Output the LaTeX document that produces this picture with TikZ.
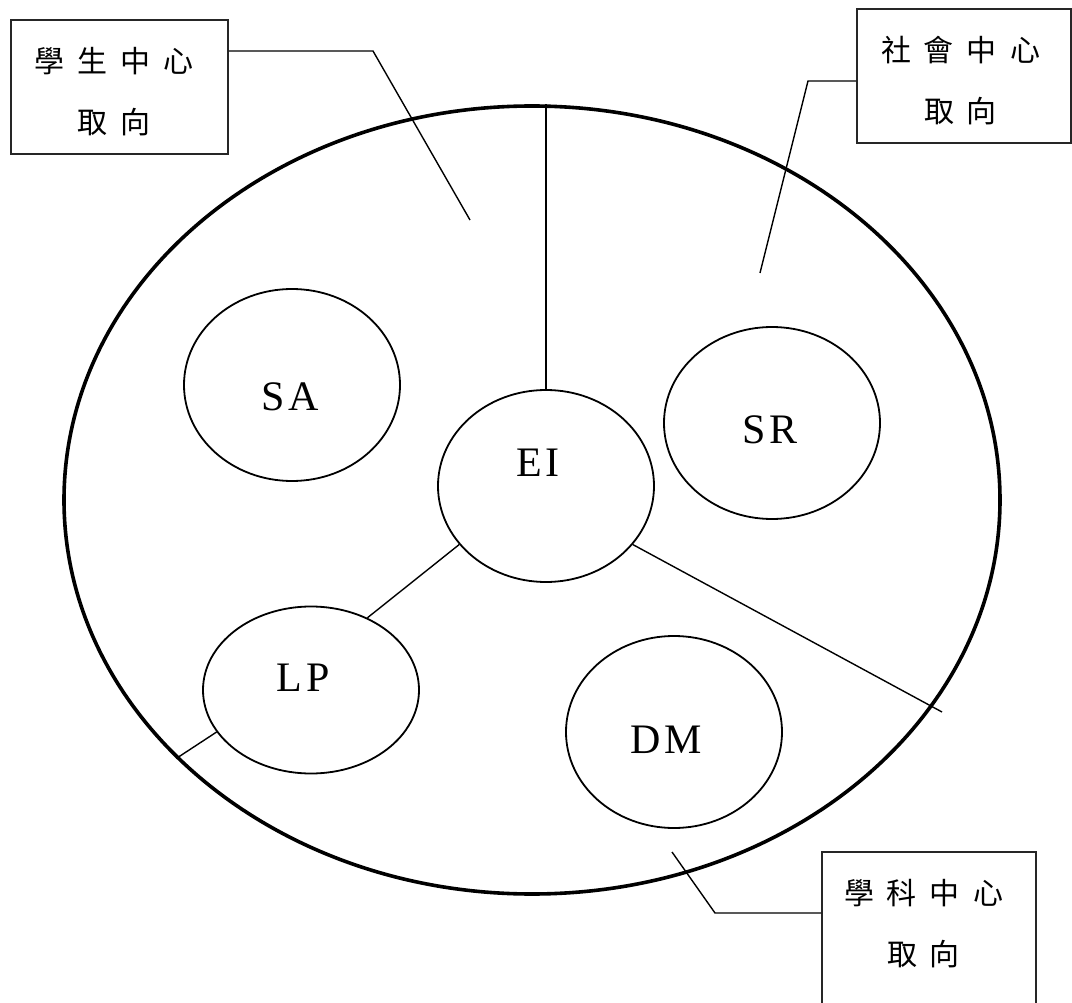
\documentclass[tikz,border=0pt]{standalone}
\usepackage{fontspec}
\setmainfont{Liberation Serif}
\newfontfamily\cjk{Noto Sans CJK TC}
\usetikzlibrary{shapes.geometric}
\newcommand\gapc{\hspace{13pt}}
\newcommand\gapl{\hspace{4pt}}
\begin{document}
\begin{tikzpicture}[x=1pt,y=-1pt,
  outer/.style={ellipse,draw,line width=3.6pt,minimum width=936pt,minimum height=788pt,inner sep=0pt},
  bub/.style={ellipse,draw,line width=1.8pt,minimum width=216pt,minimum height=192pt,inner sep=0pt},
  bubtext/.style={font=\fontsize{42}{42}\selectfont,inner sep=0pt},
  tagbox/.style={rectangle,draw=black!85,line width=1.7pt,inner sep=0pt},
  tagtext/.style={font=\cjk\fontsize{30}{61}\selectfont,align=center,inner sep=0pt},
  lead/.style={line width=1.4pt}]
\useasboundingbox (0,0) rectangle (1072,1003);
\fill[white] (0,0) rectangle (1072,1003);

\node[outer] (big) at (532,500) {};

\node[bub,label={[bubtext,xshift=-2pt,yshift=-12pt]center:S\gapl A}] (sa) at (292,385) {};
\node[bub,label={[bubtext,xshift=-8pt,yshift=23pt]center:E\gapl I}] (ei) at (546,486) {};
\node[bub,label={[bubtext,xshift=-2pt,yshift=-7pt]center:S\gapl R}] (sr) at (772,423) {};
\node[bub,label={[bubtext,xshift=-8pt,yshift=-8pt]center:D\gapl M}] (dm) at (674,732) {};
\node[bub,minimum height=167pt,label={[bubtext,xshift=-8pt,yshift=12pt]center:L\gapl P}] (lp) at (311,690) {};

\draw[lead] (ei.north) -- (ei.north |- big.north);
\draw[lead] (ei.214) -- (lp.52);
\draw[lead] (lp.204) -- (big.216.5);
\coordinate (e4) at (942,712);
\draw[lead] (ei.-34) -- (e4);

\node[tagbox,minimum width=217pt,minimum height=134pt,
  label={[tagtext,xshift=-5.5pt,yshift=-4.5pt]center:學\gapc 生\gapc 中\gapc 心\\取\gapc 向}] (b1) at (119.5,87) {};
\node[tagbox,minimum width=214pt,minimum height=134pt,
  label={[tagtext,xshift=-3.5pt,yshift=-5pt]center:社\gapc 會\gapc 中\gapc 心\\取\gapc 向}] (b2) at (964,76) {};
\node[tagbox,minimum width=214pt,minimum height=160pt,
  label={[tagtext,xshift=-5.5pt,yshift=8.5pt]center:學\gapc 科\gapc 中\gapc 心\\取\gapc 向}] (b3) at (929,932) {};

\coordinate (k1) at (373,51);
\coordinate (t1) at (470,220);
\draw[lead] (b1.east |- k1) -- (k1) -- (t1);
\coordinate (k2) at (808,81);
\coordinate (t2) at (760,273);
\draw[lead] (b2.west |- k2) -- (k2) -- (t2);
\coordinate (k3) at (715,913);
\coordinate (t3) at (672,852);
\draw[lead] (b3.west |- k3) -- (k3) -- (t3);
\end{tikzpicture}
\end{document}
